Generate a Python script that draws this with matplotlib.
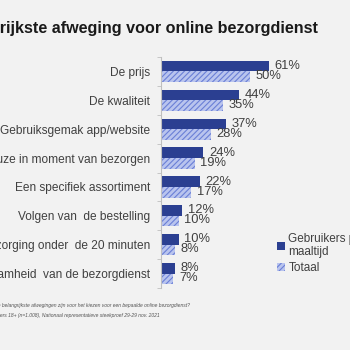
import numpy as np
import matplotlib.pyplot as plt

# categorieën en waarden (in %)
categories = ['De prijs', 'De kwaliteit', 'Gebruiksgemak app/website',
              'Keuze in moment van bezorgen', 'Een specifiek assortiment',
              'Volgen van  de bestelling', 'Bezorging onder  de 20 minuten',
              'Duurzaamheid  van de bezorgdienst']
gebruikers = [61, 44, 37, 24, 22, 12, 10, 8]
totaal = [50, 35, 28, 19, 17, 10, 8, 7]
series_names = ['Gebruikers per\nmaaltijd', 'Totaal']

bg = '#f2f2f2'
dark = '#2b3f91'
light = '#b9c4ee'
hatch_col = '#6a7fd6'
txt = '#404040'

plt.rcParams['font.family'] = ['Liberation Sans', 'DejaVu Sans']
plt.rcParams['hatch.color'] = hatch_col
plt.rcParams['hatch.linewidth'] = 0.8

fig = plt.figure(figsize=(3.5, 3.5), dpi=100, facecolor=bg)
ax = fig.add_axes([161 / 350, 62 / 350, 177 / 350, 231 / 350])
ax.set_facecolor(bg)

y = np.arange(len(categories))
h = 0.37
b1 = ax.barh(y - h / 2, gebruikers, height=h, color=dark, label=series_names[0])
b2 = ax.barh(y + h / 2, totaal, height=h, color=light, hatch='//////',
             edgecolor=hatch_col, linewidth=0, label=series_names[1])

for bars, vals, dy in [(b1, gebruikers, 0), (b2, totaal, 0.5)]:
    for r, v in zip(bars, vals):
        ax.annotate(f'{v}%', (r.get_width(), r.get_y() + r.get_height() / 2),
                    xytext=(4, dy), textcoords='offset points', va='center',
                    ha='left', fontsize=9.3, color=txt)

ax.set_xlim(0, 100)
ax.set_ylim(len(categories) - 0.5, -0.5)
ax.set_yticks(y)
ax.set_yticklabels(categories, fontsize=8.6, color=txt)
ax.tick_params(axis='y', which='major', length=0, pad=8)
ax.set_yticks(np.arange(len(categories) + 1) - 0.5, minor=True)
ax.tick_params(axis='y', which='minor', length=3, color='#bfbfbf')
ax.set_xticks([])
for s in ['top', 'right', 'bottom']:
    ax.spines[s].set_visible(False)
ax.spines['left'].set_color('#bfbfbf')
ax.spines['left'].set_linewidth(0.8)

fig.text(318 / 350, 1 - 28 / 350, 'Belangrijkste afweging voor online bezorgdienst',
         ha='right', va='center', fontsize=11.6, fontweight='bold', color='#1a1a1a')

fig.legend(handles=[b1, b2], loc='upper left', bbox_to_anchor=(266 / 350, 1 - 222 / 350),
           frameon=False, fontsize=8.5, handlelength=0.7, handleheight=0.7,
           handletextpad=0.3, labelspacing=0.3, labelcolor=txt)

fig.text(190 / 350, 1 - 306 / 350,
         'Vraag: Wat zijn voor u de belangrijkste afwegingen zijn voor het kiezen voor een bepaalde online bezorgdienst?',
         ha='right', va='center', fontsize=3.6, style='italic', color='#555555')
fig.text(160 / 350, 1 - 316 / 350,
         'Basis: Nederlanders 18+ (n=1.008), Nationaal representatieve steekproef 29-29 nov. 2021',
         ha='right', va='center', fontsize=3.6, style='italic', color='#555555')

fig.savefig('out.png', dpi=100, facecolor=bg)
